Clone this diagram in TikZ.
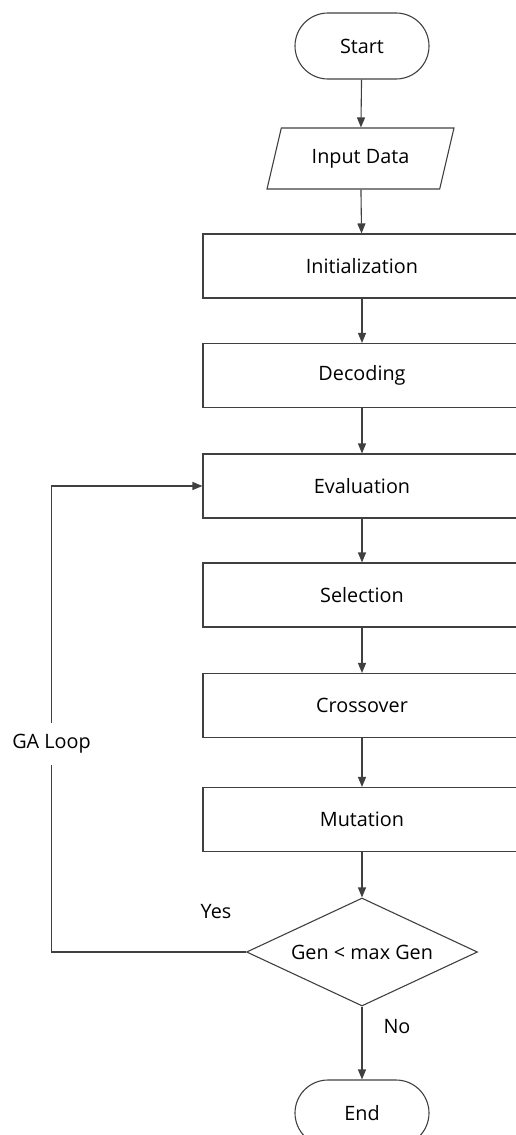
\documentclass[tikz,border=0pt]{standalone}
\usepackage{fontspec}
\setmainfont{Open Sans}
\usetikzlibrary{arrows.meta,shapes.geometric}
\begin{document}
\begin{tikzpicture}[x=1pt,y=-1pt,
  font=\fontsize{19.8}{23}\selectfont,
  line/.style={draw=black!75,line width=1.1pt},
  flow/.style={line,-{Triangle[width=8pt,length=10pt]}},
  terminal/.style={line,rectangle,rounded corners=33pt,minimum width=134pt,minimum height=66pt,inner sep=0pt},
  io/.style={line,trapezium,trapezium left angle=65,trapezium right angle=115,trapezium stretches=true,minimum width=187pt,minimum height=61pt,inner sep=0pt},
  process/.style={line,rectangle,minimum width=318pt,minimum height=64pt,inner sep=0pt},
  decision/.style={line,diamond,aspect=2.14,minimum width=231pt,minimum height=108pt,inner sep=0pt},
  lbl/.style={inner sep=0pt}]
\useasboundingbox (0,0) rectangle (515,1135);

% main flow
\node[terminal] (start) at (362,46) {Start};
\node[io] (input) at (360.5,158.5) {Input Data};
\node[process] (init) at (362,266) {Initialization};
\node[process] (decode) at (362,375.5) {Decoding};
\node[process] (eval) at (362,486) {Evaluation};
\node[process] (select) at (362,595) {Selection};
\node[process] (cross) at (362,705.5) {Crossover};
\node[process] (mutate) at (362,819.5) {Mutation};
\node[decision] (check) at (362,952) {Gen < max Gen};
\node[terminal] (end) at (362,1113) {End};

% labels
\node[lbl,minimum height=42pt] (loop) at (51.5,744) {GA Loop};
\node[lbl] (yes) at (216,912) {Yes};
\node[lbl] (no) at (397,1027) {No};

\draw[flow] (start) -- (input);
\draw[flow] (input) -- (init);
\draw[flow] (init) -- (decode);
\draw[flow] (decode) -- (eval);
\draw[flow] (eval) -- (select);
\draw[flow] (select) -- (cross);
\draw[flow] (cross) -- (mutate);
\draw[flow] (mutate) -- (check);
\draw[flow] (check) -- (end);
% loop back to evaluation
\draw[line] (check.west) -| (loop.south);
\draw[flow] (loop.north) |- (eval.west);
\end{tikzpicture}
\end{document}
